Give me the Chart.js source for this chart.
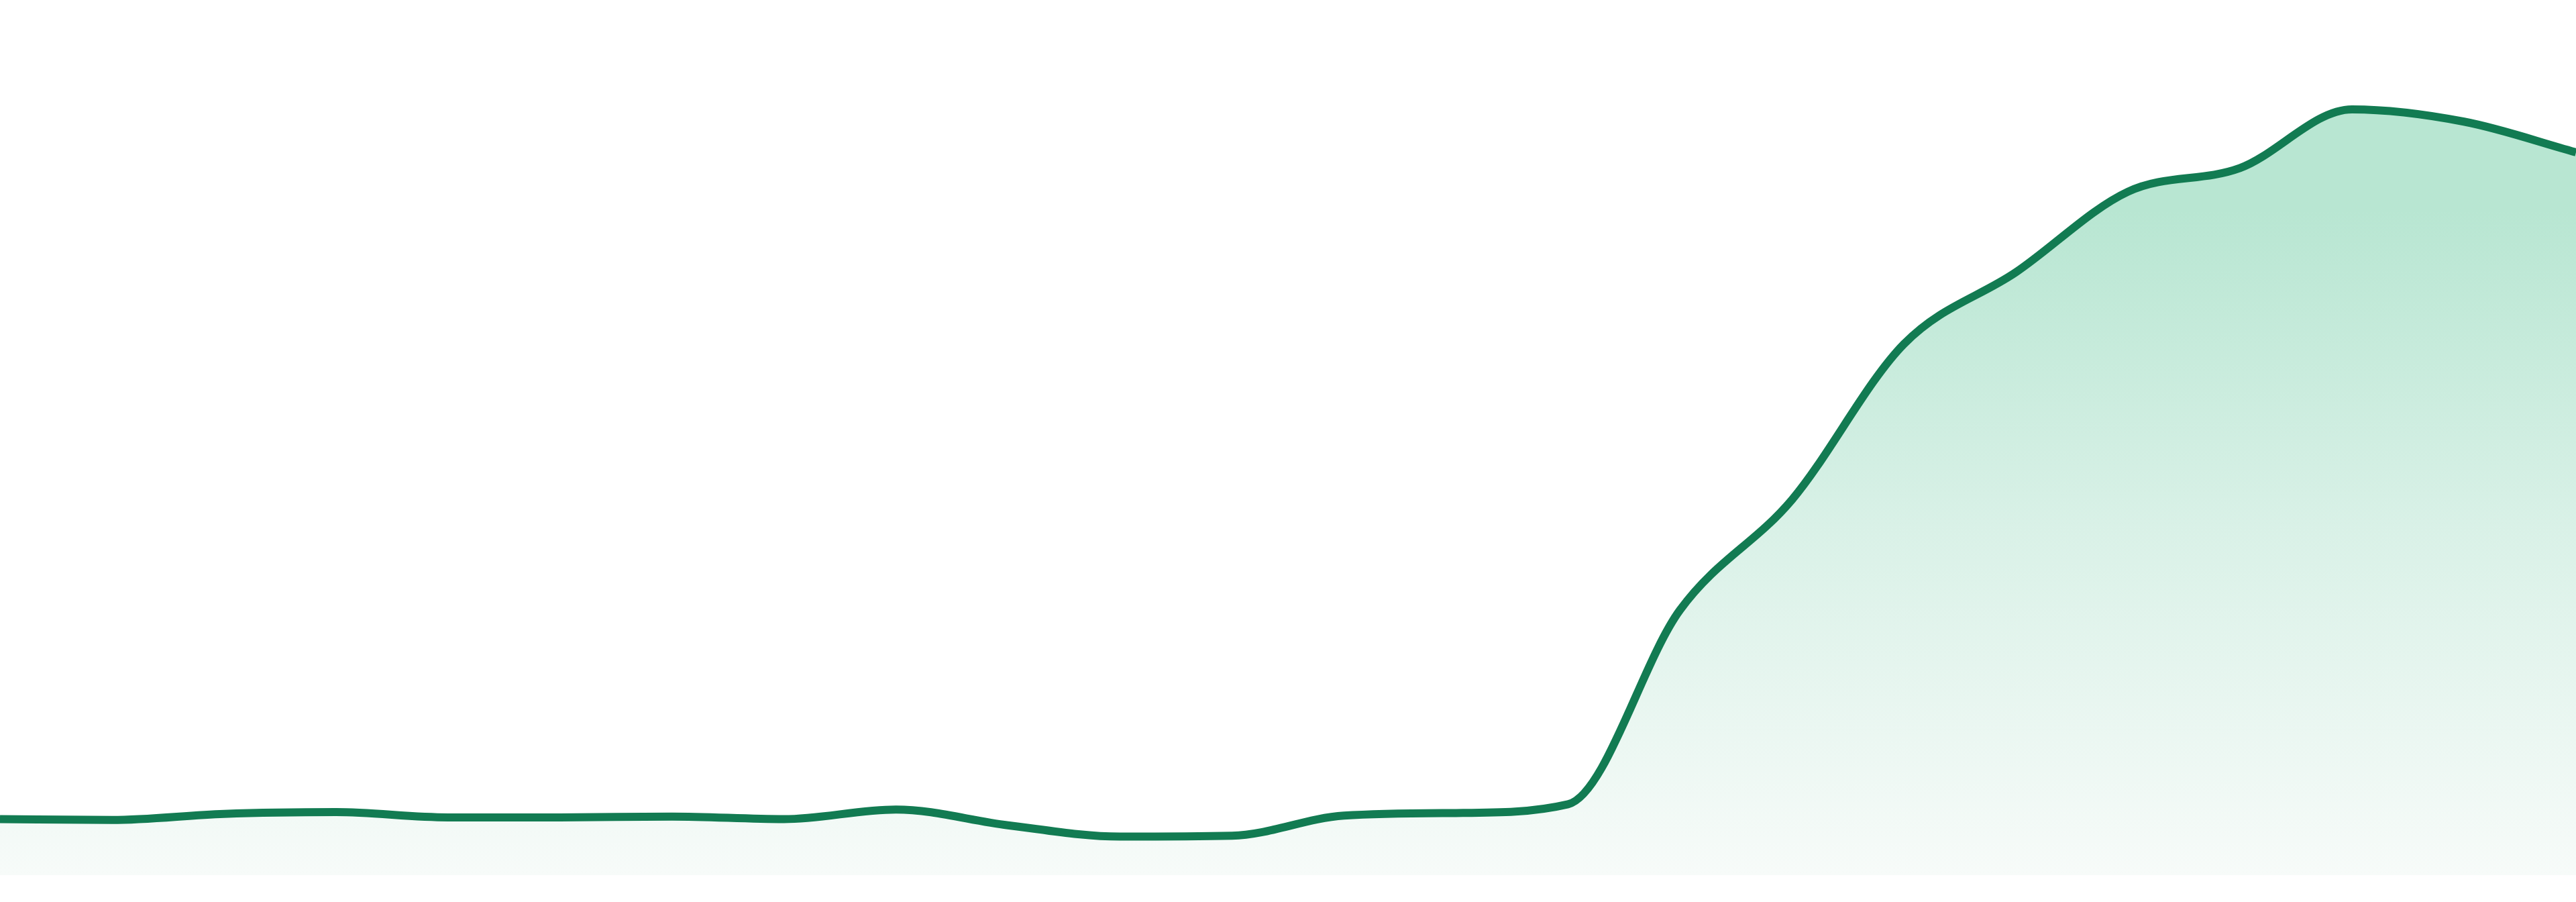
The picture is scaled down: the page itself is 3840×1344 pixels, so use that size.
<!DOCTYPE html>
<html>
<head>
<meta charset="utf-8">
<title>Volume trend</title>
<script src="https://cdn.jsdelivr.net/npm/chart.js@4"></script>
<style>
  html, body { margin:0; padding:0; background:#fff; }
  .wrap { position:relative; width:3840px; height:1344px; }
</style>
</head>
<body>
<div class="wrap"><canvas id="trendChart"></canvas></div>
<script>
/* ── data ── */
const HOURS = ['00:00','01:00','02:00','03:00','04:00','05:00','06:00','07:00','08:00','09:00','10:00','11:00',
               '12:00','13:00','14:00','15:00','16:00','17:00','18:00','19:00','20:00','21:00','22:00','23:00'];
const VOLUME = [6.4,6.3,7.0,7.2,6.6,6.6,6.7,6.4,7.5,5.7,4.4,4.5,
                6.8,7.1,8.1,30.3,42.9,60.7,68.9,78.1,80.8,87.5,86.1,82.6];
const Y_MIN = 0, Y_MAX = 100;

const LINE = '#127b52';

function fillGrad(context) {
  const { ctx, chartArea } = context.chart;
  if (!chartArea) return 'rgba(184,230,210,.5)';
  const g = ctx.createLinearGradient(0, chartArea.top, 0, chartArea.bottom);
  g.addColorStop(0, '#b8e6d2');
  g.addColorStop(0.24, '#b8e6d2');
  g.addColorStop(0.6, '#d9f1e7');
  g.addColorStop(1, '#f7fbf9');
  return g;
}

/* ── chart ── */
new Chart(document.getElementById('trendChart').getContext('2d'), {
  type:'line',
  data:{
    labels: HOURS,
    datasets:[{
      label:'Volume',
      data: VOLUME,
      borderColor: LINE,
      backgroundColor: fillGrad,
      fill:'origin',
      borderWidth:12,
      cubicInterpolationMode:'monotone',
      pointRadius:0,
      pointHoverRadius:0
    }]
  },
  options:{
    responsive:true,
    maintainAspectRatio:false,
    animation:false,
    layout:{ padding:{ top:0, left:0, right:0, bottom:40 } },
    plugins:{ legend:{ display:false }, tooltip:{ enabled:false } },
    scales:{
      x:{ display:false, offset:false },
      y:{ display:false, min:Y_MIN, max:Y_MAX }
    }
  }
});
</script>
</body>
</html>
